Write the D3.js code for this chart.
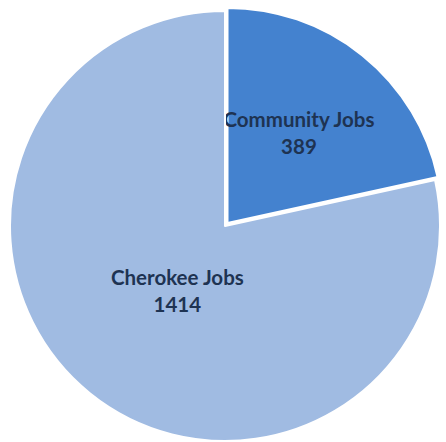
<!DOCTYPE html>
<html><head><meta charset="utf-8">
<script src="https://cdn.jsdelivr.net/npm/d3@7"></script>
<style>html,body{margin:0;padding:0;background:#fff;}svg{display:block;}</style>
</head><body>
<svg id="chart" width="446" height="442"></svg>
<script>
const categories = ["Community Jobs", "Cherokee Jobs"];
const values = [389, 1414];
const colors = ["#4482cf", "#a0bbe2"];

const svg = d3.select("#chart");
const cx = 225, cy = 226, R = 215;
const g = svg.append("g").attr("transform", `translate(${cx},${cy})`);

const data = categories.map((c, i) => ({ name: c, value: values[i], color: colors[i] }));
const pie = d3.pie().value(d => d.value).sort(null);
const arcs = pie(data);
const arc = d3.arc().innerRadius(0).outerRadius(R);
const explode = [4, 0];
const labelR = [0.53, 0.42];
const labelShift = [[0, -3], [9, -7]];

const slice = g.selectAll("g.slice").data(arcs).join("g").attr("class", "slice")
  .attr("transform", (d, i) => {
    const a = (d.startAngle + d.endAngle) / 2;
    return `translate(${Math.sin(a) * explode[i]},${-Math.cos(a) * explode[i]})`;
  });
slice.append("path").attr("d", arc).attr("fill", d => d.data.color)
  .attr("stroke", "#fff").attr("stroke-width", 2).attr("stroke-linejoin", "round");

slice.each(function (d, i) {
  const a = (d.startAngle + d.endAngle) / 2;
  const r = R * labelR[i];
  const x = Math.sin(a) * r + labelShift[i][0], y = -Math.cos(a) * r + labelShift[i][1];
  const t = d3.select(this).append("text")
    .attr("text-anchor", "middle")
    .attr("font-family", "Lato, 'Open Sans', sans-serif")
    .attr("font-weight", "bold").attr("font-size", 20.5)
    .attr("fill", "#1e3352");
  t.append("tspan").attr("x", x).attr("y", y - 4).text(d.data.name);
  t.append("tspan").attr("x", x).attr("y", y + 23).text(d.data.value);
});
</script>
</body></html>
